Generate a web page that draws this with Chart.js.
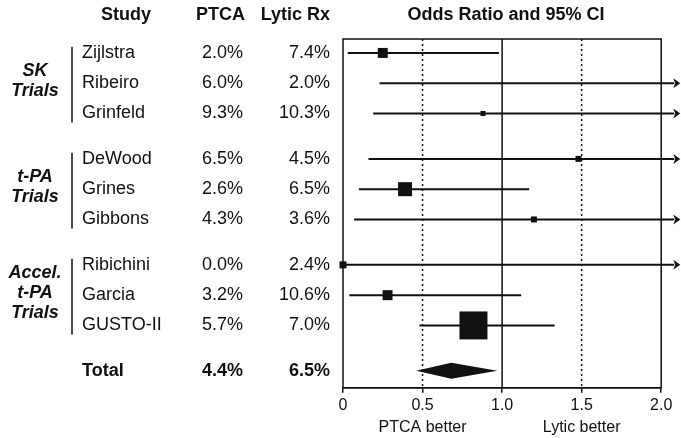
<!DOCTYPE html>
<html>
<head>
<meta charset="utf-8">
<title>Odds Ratio and 95% CI</title>
<script src="https://cdn.jsdelivr.net/npm/chart.js@4.4.1/dist/chart.umd.min.js"></script>
<style>
  html, body { margin: 0; padding: 0; background: #fff; }
  #wrap { width: 681px; height: 438px; }
</style>
</head>
<body>
<div id="wrap"><canvas id="forest" width="681" height="438"></canvas></div>
<script>
// studies, grouped by trial type
var studies = ['Zijlstra', 'Ribeiro', 'Grinfeld', 'DeWood', 'Grines', 'Gibbons', 'Ribichini', 'Garcia', 'GUSTO-II'];
var studyGroup = [0, 0, 0, 1, 1, 1, 2, 2, 2];
var groupLabels = [['SK', 'Trials'], ['t-PA', 'Trials'], ['Accel.', 't-PA', 'Trials']];

// event rates (%) as printed in the table
var ptcaRate = [2.0, 6.0, 9.3, 6.5, 2.6, 4.3, 0.0, 3.2, 5.7];
var lyticRate = [7.4, 2.0, 10.3, 4.5, 6.5, 3.6, 2.4, 10.6, 7.0];

// odds ratio and 95% CI (null = beyond 2.0, drawn as an arrow)
var oddsRatio = [0.25, null, 0.88, 1.48, 0.39, 1.20, 0.0, 0.28, 0.82];
var ciLow = [0.03, 0.23, 0.19, 0.16, 0.10, 0.07, 0.0, 0.04, 0.48];
var ciHigh = [0.98, null, null, null, 1.17, null, null, 1.12, 1.33];
// relative weight (%) - sets the area of each square
var studyWeight = [7.5, null, 1.9, 2.7, 14.8, 2.7, 3.7, 7.5, 59.1];

// pooled result
var totalPtca = 4.4;
var totalLytic = 6.5;
var totalOR = 0.68;
var totalLow = 0.46;
var totalHigh = 0.97;

var xTicks = [0, 0.5, 1.0, 1.5, 2.0];
var xTickLabels = ['0', '0.5', '1.0', '1.5', '2.0'];
var sideLabels = ['PTCA better', 'Lytic better'];   // under 0.5 and 1.5

var INK = '#111';
var FONT = '"Liberation Sans", Arial, Helvetica, sans-serif';
var ARROW_X = 2.082;   // where off-scale CI lines stop (past the box)

// row positions: one row per study, half a row gap between groups
var rowY = studies.map(function (s, i) { return i + 1 + studyGroup[i] * 0.5; });
var totalY = rowY[rowY.length - 1] + 1.5;

function pct(v) { return v.toFixed(1) + '%'; }

//------------------------------ datasets ------------------------------
var datasets = [];

// CI whiskers
studies.forEach(function (s, i) {
  var hi = ciHigh[i] === null ? ARROW_X : ciHigh[i];
  datasets.push({
    type: 'line',
    data: [{ x: ciLow[i], y: rowY[i] }, { x: hi, y: rowY[i] }],
    borderColor: INK,
    borderWidth: 2,
    pointRadius: 0,
    clip: false
  });
});

// weighted squares
var boxData = [];
var boxRadius = [];
studies.forEach(function (s, i) {
  if (oddsRatio[i] === null) return;
  boxData.push({ x: oddsRatio[i], y: rowY[i] });
  var side = 3.64 * Math.sqrt(studyWeight[i]);
  boxRadius.push(side / Math.SQRT2);
});
datasets.push({
  type: 'scatter',
  data: boxData,
  pointStyle: 'rect',
  pointRadius: boxRadius,
  backgroundColor: INK,
  borderWidth: 0,
  clip: false
});

//------------------------------ drawing helpers ------------------------------
var forestDecor = {
  id: 'forestDecor',
  beforeDatasetsDraw: function (chart) {
    var ctx = chart.ctx, a = chart.chartArea, xs = chart.scales.x;
    ctx.save();
    ctx.strokeStyle = INK;
    ctx.lineWidth = 1.5;
    ctx.strokeRect(a.left, a.top, a.right - a.left, a.bottom - a.top);

    // line of no effect
    var x1 = xs.getPixelForValue(1.0);
    ctx.beginPath(); ctx.moveTo(x1, a.top); ctx.lineTo(x1, a.bottom); ctx.stroke();

    // dotted guides at 0.5 and 1.5
    ctx.setLineDash([2, 3]);
    [0.5, 1.5].forEach(function (v) {
      var x = xs.getPixelForValue(v);
      ctx.beginPath(); ctx.moveTo(x, a.top); ctx.lineTo(x, a.bottom); ctx.stroke();
    });
    ctx.restore();
  },
  afterDatasetsDraw: function (chart) {
    var ctx = chart.ctx, xs = chart.scales.x, ys = chart.scales.y;
    ctx.save();
    ctx.fillStyle = INK;

    // arrow heads on the off-scale CIs
    var ax = xs.getPixelForValue(ARROW_X);
    studies.forEach(function (s, i) {
      if (ciHigh[i] !== null) return;
      var y = ys.getPixelForValue(rowY[i]);
      ctx.beginPath();
      ctx.moveTo(ax + 6, y);
      ctx.lineTo(ax - 1, y - 5);
      ctx.lineTo(ax + 1, y);
      ctx.lineTo(ax - 1, y + 5);
      ctx.closePath();
      ctx.fill();
    });

    // pooled diamond
    var y = ys.getPixelForValue(totalY);
    ctx.beginPath();
    ctx.moveTo(xs.getPixelForValue(totalLow), y);
    ctx.lineTo(xs.getPixelForValue(totalOR), y - 8);
    ctx.lineTo(xs.getPixelForValue(totalHigh), y);
    ctx.lineTo(xs.getPixelForValue(totalOR), y + 8);
    ctx.closePath();
    ctx.fill();
    ctx.restore();
  },
  afterDraw: function (chart) {
    var ctx = chart.ctx, a = chart.chartArea, xs = chart.scales.x, ys = chart.scales.y;
    var nameX = 82, ptcaX = 243, lyticX = 330;
    ctx.save();
    ctx.fillStyle = INK;
    ctx.strokeStyle = INK;
    ctx.textBaseline = 'middle';

    // headers
    ctx.font = 'bold 18px ' + FONT;
    ctx.textAlign = 'center';
    ctx.fillText('Study', 126, 15);
    ctx.fillText('Odds Ratio and 95% CI', (a.left + a.right) / 2 + 4, 15);
    ctx.textAlign = 'right';
    ctx.fillText('PTCA', ptcaX + 2, 15);
    ctx.fillText('Lytic Rx', lyticX, 15);

    // study rows
    ctx.font = '18px ' + FONT;
    studies.forEach(function (s, i) {
      var y = ys.getPixelForValue(rowY[i]);
      ctx.textAlign = 'left';
      ctx.fillText(s, nameX, y);
      ctx.textAlign = 'right';
      ctx.fillText(pct(ptcaRate[i]), ptcaX, y);
      ctx.fillText(pct(lyticRate[i]), lyticX, y);
    });

    // total row
    ctx.font = 'bold 18px ' + FONT;
    var ty = ys.getPixelForValue(totalY);
    ctx.textAlign = 'left';
    ctx.fillText('Total', nameX, ty);
    ctx.textAlign = 'right';
    ctx.fillText(pct(totalPtca), ptcaX, ty);
    ctx.fillText(pct(totalLytic), lyticX, ty);

    // group labels + bracket bars
    ctx.font = 'italic bold 18px ' + FONT;
    ctx.textAlign = 'center';
    ctx.lineWidth = 1.5;
    groupLabels.forEach(function (lines, g) {
      var rows = rowY.filter(function (r, i) { return studyGroup[i] === g; });
      var first = rows[0], last = rows[rows.length - 1];
      var mid = ys.getPixelForValue((first + last) / 2) - 2;
      lines.forEach(function (t, k) {
        ctx.fillText(t, 35, mid + (k - (lines.length - 1) / 2) * 20);
      });
      ctx.beginPath();
      ctx.moveTo(72, ys.getPixelForValue(first - 0.2));
      ctx.lineTo(72, ys.getPixelForValue(last + 0.3));
      ctx.stroke();
    });

    // PTCA better / Lytic better
    ctx.font = '16px ' + FONT;
    ctx.fillText(sideLabels[0], xs.getPixelForValue(0.5), 428);
    ctx.fillText(sideLabels[1], xs.getPixelForValue(1.5), 428);
    ctx.restore();
  }
};

//------------------------------ chart ------------------------------
Chart.defaults.font.family = FONT;
Chart.defaults.color = INK;

new Chart(document.getElementById('forest'), {
  type: 'scatter',
  data: { datasets: datasets },
  options: {
    responsive: false,
    animation: false,
    layout: { padding: { left: 343, right: 19, top: 39, bottom: 20 } },
    plugins: { legend: { display: false }, tooltip: { enabled: false } },
    scales: {
      x: {
        type: 'linear',
        min: 0,
        max: 2,
        afterBuildTicks: function (scale) {
          scale.ticks = xTicks.map(function (v) { return { value: v }; });
        },
        grid: { display: true, drawOnChartArea: false, drawTicks: true, tickLength: 5, color: INK, lineWidth: 1.5 },
        border: { display: true, color: INK, width: 1.5 },
        ticks: {
          color: INK,
          font: { size: 16 },
          padding: 3,
          maxRotation: 0,
          callback: function (v, i) { return xTickLabels[i]; }
        }
      },
      y: { type: 'linear', display: false, reverse: true, min: 0.54, max: 12.06 }
    }
  },
  plugins: [forestDecor]
});
</script>
</body>
</html>
